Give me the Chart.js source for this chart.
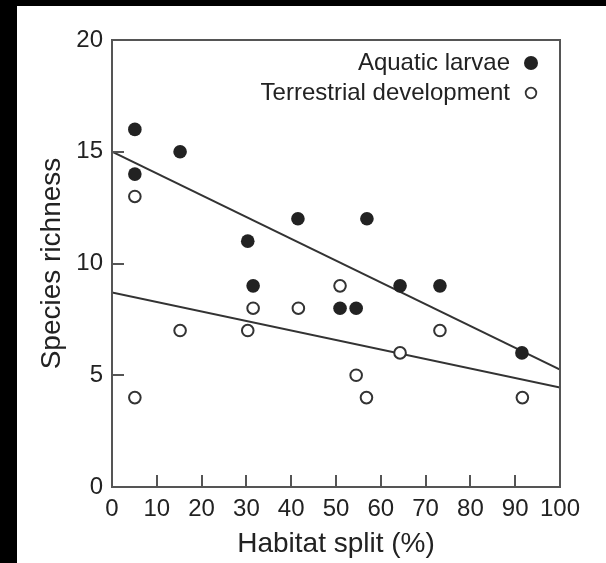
<!DOCTYPE html>
<html>
<head>
<meta charset="utf-8">
<script src="https://cdn.jsdelivr.net/npm/chart.js@4/dist/chart.umd.min.js"></script>
<style>
  html, body { margin: 0; padding: 0; background: #000; width: 606px; height: 563px; overflow: hidden; }
  #wrap { position: absolute; left: 17px; top: 6px; width: 589px; height: 557px; background: #fff; }
  canvas { display: block; }
</style>
</head>
<body>
<div id="wrap"><canvas id="c" width="589" height="557"></canvas></div>
<script>
// ---- data ----
const habitatAquatic     = [5.1, 5.1, 15.2, 30.3, 31.5, 41.5, 50.9, 54.5, 56.9, 64.3, 73.2, 91.5];
const richnessAquatic    = [16, 14, 15, 11, 9, 12, 8, 8, 12, 9, 9, 6];
const habitatTerrestrial = [5.1, 5.1, 15.2, 30.3, 31.5, 41.6, 50.9, 54.5, 56.8, 64.3, 73.2, 91.6];
const richnessTerrestrial= [13, 4, 7, 7, 8, 8, 9, 5, 4, 6, 7, 4];
const fitX               = [0, 100];
const fitAquatic         = [15.0, 5.25];
const fitTerrestrial     = [8.7, 4.45];
const xTickValues        = [0, 10, 20, 30, 40, 50, 60, 70, 80, 90, 100];
const yTickValues        = [0, 5, 10, 15, 20];
const seriesNames        = ['Aquatic larvae', 'Terrestrial development'];
const xTitle = 'Habitat split (%)';
const yTitle = 'Species richness';

const FONT = '"Liberation Sans", Arial, Helvetica, sans-serif';
const TEXT = '#222';

const toXY = (xs, ys) => xs.map((v, i) => ({ x: v, y: ys[i] }));

const framePlugin = {
  id: 'frame',
  afterDraw(chart) {
    const { ctx, chartArea: { left, right, top, bottom }, scales: { x, y } } = chart;
    ctx.save();
    ctx.strokeStyle = '#555';
    ctx.lineWidth = 2;
    ctx.strokeRect(left, top, right - left, bottom - top);
    ctx.beginPath();
    xTickValues.slice(1, -1).forEach(v => {
      const px = Math.round(x.getPixelForValue(v));
      ctx.moveTo(px, bottom);
      ctx.lineTo(px, bottom - 12);
    });
    yTickValues.slice(1, -1).forEach(v => {
      const py = Math.round(y.getPixelForValue(v));
      ctx.moveTo(left, py);
      ctx.lineTo(left + 12, py);
    });
    ctx.stroke();

    // legend (text to the left of marker)
    const ds = chart.data.datasets;
    ctx.font = '24px ' + FONT;
    ctx.fillStyle = TEXT;
    ctx.textAlign = 'right';
    ctx.textBaseline = 'middle';
    const tx = right - 50, mx = right - 29;
    const rows = [top + 23, top + 53];
    ctx.fillText(ds[0].label, tx, rows[0]);
    ctx.fillText(ds[1].label, tx, rows[1]);
    ctx.beginPath();
    ctx.arc(mx, rows[0], 7, 0, Math.PI * 2);
    ctx.fillStyle = ds[0].pointBackgroundColor;
    ctx.fill();
    ctx.beginPath();
    ctx.arc(mx, rows[1], 5.3, 0, Math.PI * 2);
    ctx.fillStyle = '#fff';
    ctx.fill();
    ctx.lineWidth = 1.8;
    ctx.strokeStyle = ds[1].pointBorderColor;
    ctx.stroke();
    ctx.restore();
  }
};

new Chart(document.getElementById('c'), {
  type: 'scatter',
  data: {
    datasets: [
      {
        label: seriesNames[0],
        data: toXY(habitatAquatic, richnessAquatic),
        pointRadius: 6.8,
        pointBackgroundColor: '#222',
        pointBorderColor: '#222',
        pointBorderWidth: 0,
        order: 1
      },
      {
        label: seriesNames[1],
        data: toXY(habitatTerrestrial, richnessTerrestrial),
        pointRadius: 5.8,
        pointBackgroundColor: '#fff',
        pointBorderColor: '#333',
        pointBorderWidth: 2,
        order: 1
      },
      {
        type: 'line',
        label: 'fit aquatic',
        data: toXY(fitX, fitAquatic),
        borderColor: '#333',
        borderWidth: 2,
        pointRadius: 0,
        fill: false,
        order: 2
      },
      {
        type: 'line',
        label: 'fit terrestrial',
        data: toXY(fitX, fitTerrestrial),
        borderColor: '#333',
        borderWidth: 2,
        pointRadius: 0,
        fill: false,
        order: 2
      }
    ]
  },
  options: {
    responsive: false,
    animation: false,
    devicePixelRatio: 1,
    layout: { padding: { left: 0, top: 34, right: 46, bottom: 0 } },
    plugins: { legend: { display: false }, tooltip: { enabled: false } },
    scales: {
      x: {
        type: 'linear',
        min: 0, max: 100,
        afterFit(s) { s.height = 76; },
        afterBuildTicks(s) { s.ticks = xTickValues.map(v => ({ value: v })); },
        grid: { display: false, drawTicks: false },
        border: { display: false },
        ticks: { color: TEXT, font: { family: FONT, size: 24 }, padding: 8, maxRotation: 0, autoSkip: false },
        title: { display: true, text: xTitle, color: TEXT, font: { family: FONT, size: 28 }, padding: { top: 0, bottom: 2 } }
      },
      y: {
        type: 'linear',
        min: 0, max: 20,
        afterFit(s) { s.width = 95; },
        afterBuildTicks(s) { s.ticks = yTickValues.map(v => ({ value: v })); },
        grid: { display: false, drawTicks: false },
        border: { display: false },
        ticks: { color: TEXT, font: { family: FONT, size: 24 }, padding: 9 },
        title: { display: true, text: yTitle, color: TEXT, font: { family: FONT, size: 28 }, padding: { top: 18, bottom: 0 } }
      }
    }
  },
  plugins: [framePlugin]
});
</script>
</body>
</html>
